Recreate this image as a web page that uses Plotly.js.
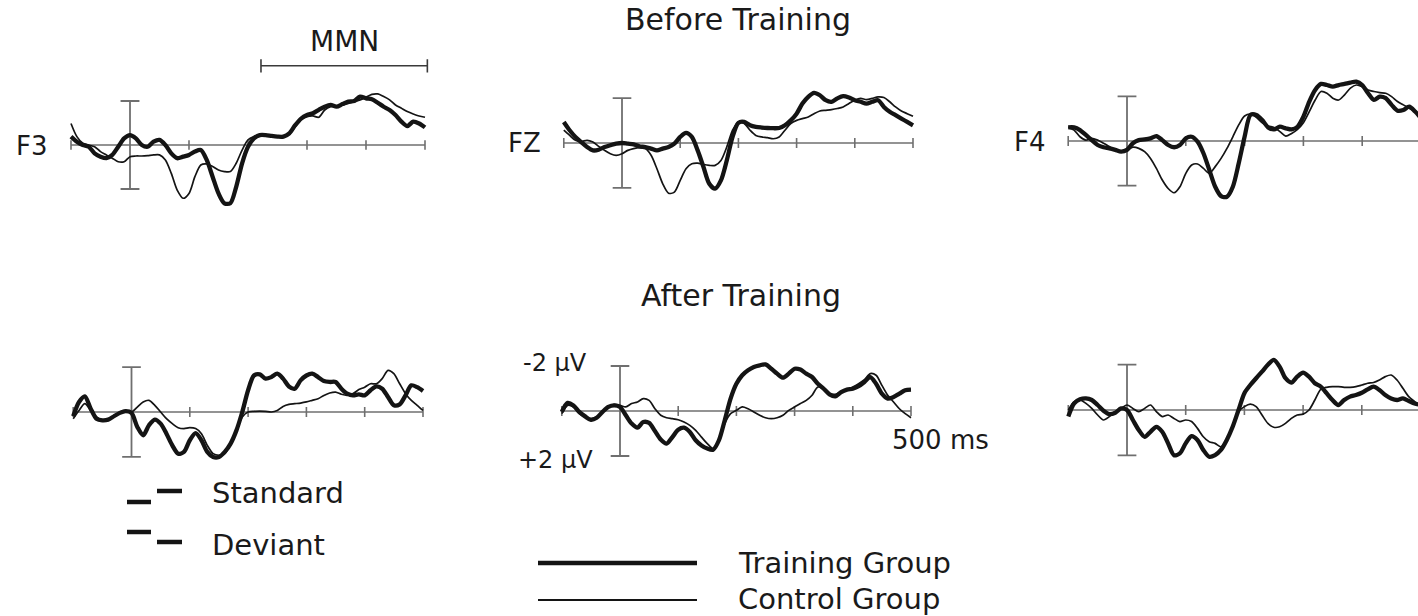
<!DOCTYPE html>
<html>
<head>
<meta charset="utf-8">
<script src="https://cdn.plot.ly/plotly-3.0.1.min.js"></script>
<style>html,body{margin:0;padding:0;background:#fff;}#chart{width:1418px;height:616px;}</style>
</head>
<body>
<div id="chart"></div>
<script>
// ---------- DATA (time in ms, amplitude in µV; negative plotted upward) ----------
const timeMs = [];
for (let t = -100; t <= 500; t += 10) timeMs.push(t);

const electrodes = ['F3', 'FZ', 'F4'];
const phases = ['Before Training', 'After Training'];
const tickTimes = [-100, 100, 200, 300, 400, 500];
const scaleBarUv = [-2, 2];
const mmnWindow = [222, 504];
const mmnLevel = -3.6;
const groupNames = ['Training Group', 'Control Group'];
const stimulusNames = ['Standard', 'Deviant'];
const scaleLabels = ['-2 µV', '+2 µV', '500 ms'];

const trainF3Before = [-0.38,-0.15,0,0.08,0.38,0.53,0.6,0.45,0.08,-0.3,
  -0.45,-0.3,0,0.08,-0.15,-0.23,0,0.38,0.6,0.53,
  0.45,0.3,0.23,0.68,1.44,2.2,2.65,2.65,1.9,0.83,
  0.08,-0.3,-0.45,-0.45,-0.41,-0.38,-0.38,-0.53,-0.9,-1.2,
  -1.36,-1.44,-1.6,-1.74,-1.82,-1.74,-1.86,-1.97,-2.0,-2.2,
  -2.12,-2.08,-1.92,-1.74,-1.59,-1.36,-1.06,-0.86,-1.06,-0.98,-0.8];
const ctrlF3Before = [-0.98,-0.38,-0.08,0,0.08,0.3,0.45,0.6,0.76,0.76,
  0.53,0.5,0.5,0.48,0.45,0.45,0.68,1.29,2.05,2.42,
  2.2,1.44,0.91,0.86,0.98,1.14,1.21,1.21,0.83,0.23,
  -0.23,-0.38,-0.45,-0.42,-0.38,-0.38,-0.38,-0.48,-0.83,-1.17,
  -1.29,-1.32,-1.26,-1.59,-1.74,-1.77,-1.82,-1.89,-1.97,-2.05,
  -2.17,-2.3,-2.32,-2.2,-2.05,-1.82,-1.67,-1.52,-1.41,-1.32,-1.26];

const trainFZBefore = [-0.94,-0.57,-0.27,-0.04,0.18,0.33,0.3,0.18,0.1,0.03,
  0,0.03,0.06,0.15,0.18,0.25,0.33,0.25,0.18,0.03,
  -0.27,-0.45,-0.27,0.33,1.07,1.82,2.04,1.67,0.78,-0.27,
  -0.9,-0.94,-0.79,-0.72,-0.69,-0.67,-0.66,-0.67,-0.79,-1.01,
  -1.31,-1.76,-2.06,-2.24,-2.13,-1.91,-1.84,-1.99,-2.09,-2.03,
  -1.91,-1.84,-1.76,-1.84,-1.91,-1.61,-1.39,-1.24,-1.09,-0.94,-0.79];
const ctrlFZBefore = [-0.57,-0.34,-0.12,-0.07,-0.12,-0.04,0.15,0.33,0.48,0.55,
  0.48,0.33,0.25,0.21,0.25,0.55,1.15,1.82,2.24,2.19,
  1.67,1.15,0.93,0.9,0.96,1.0,1.0,0.78,0.18,-0.57,
  -0.94,-0.87,-0.57,-0.34,-0.27,-0.24,-0.19,-0.27,-0.57,-0.87,
  -1.01,-1.09,-1.16,-1.31,-1.43,-1.46,-1.49,-1.54,-1.61,-1.76,
  -1.91,-1.99,-1.94,-1.99,-2.06,-2.03,-1.84,-1.61,-1.43,-1.31,-1.19];

const trainF4Before = [-0.61,-0.61,-0.49,-0.27,-0.04,0.18,0.28,0.33,0.4,0.48,
  0.4,0.1,-0.04,-0.07,-0.12,-0.22,-0.04,0.18,0.28,0.18,
  -0.12,-0.19,0.03,0.55,1.3,2.05,2.47,2.5,2.05,1.0,
  -0.19,-1.17,-1.17,-0.94,-0.61,-0.52,-0.64,-0.57,-0.52,-0.64,
  -1.09,-1.77,-2.29,-2.56,-2.51,-2.44,-2.51,-2.56,-2.62,-2.66,
  -2.51,-2.14,-1.84,-1.99,-1.92,-1.62,-1.36,-1.39,-1.54,-1.32,-1.02];
const ctrlF4Before = [-0.61,-0.49,-0.19,-0.04,-0.12,-0.04,0.1,0.25,0.4,0.48,
  0.4,0.28,0.33,0.48,0.78,1.23,1.75,2.13,2.32,2.05,
  1.45,1.08,1.03,1.23,1.45,1.15,0.78,0.33,-0.19,-0.72,
  -1.12,-1.21,-1.06,-0.82,-0.67,-0.61,-0.42,-0.22,-0.34,-0.52,
  -0.82,-1.32,-1.84,-2.22,-2.14,-1.92,-1.84,-2.07,-2.37,-2.51,
  -2.44,-2.29,-2.22,-2.17,-2.14,-1.99,-1.77,-1.62,-1.47,-1.32,-1.17];

const trainF3After = [0.19,-0.45,-0.7,-0.15,0.3,0.37,0.34,0.19,0.04,-0.04,
  0.04,0.67,1.04,0.59,0.34,0.52,0.97,1.49,1.86,1.78,
  1.26,0.94,1.26,1.78,2.01,2.01,1.78,1.41,0.82,0,
  -0.97,-1.63,-1.68,-1.49,-1.56,-1.71,-1.49,-1.14,-1.04,-1.41,
  -1.63,-1.71,-1.56,-1.38,-1.34,-1.34,-1.04,-0.82,-0.74,-0.79,
  -0.74,-0.97,-1.14,-1.04,-0.67,-0.3,-0.34,-0.74,-1.19,-1.11,-0.94];
const ctrlF3After = [0.3,-0.07,-0.37,-0.07,0.22,0.37,0.34,0.19,0,-0.07,
  0,-0.22,-0.45,-0.52,-0.3,0,0.3,0.52,0.7,0.74,
  0.7,0.74,0.97,1.49,1.86,1.93,1.86,1.41,0.82,0.22,
  0,-0.03,-0.04,-0.03,0,-0.07,-0.25,-0.34,-0.37,-0.4,
  -0.45,-0.52,-0.59,-0.74,-0.85,-0.89,-0.79,-0.74,-0.82,-1.0,
  -1.11,-1.26,-1.26,-1.49,-1.86,-1.71,-1.26,-0.82,-0.52,-0.3,-0.07];

const trainFZAfter = [0.04,-0.36,-0.25,0.04,0.24,0.39,0.3,0.04,-0.18,-0.25,
  -0.18,0.19,0.56,0.74,0.49,0.53,0.89,1.27,1.45,1.16,
  0.83,0.74,0.93,1.3,1.53,1.67,1.72,1.3,0.41,-0.55,
  -1.21,-1.59,-1.81,-1.96,-2.03,-2.07,-1.88,-1.66,-1.48,-1.66,
  -1.88,-1.84,-1.66,-1.51,-1.21,-0.99,-0.74,-0.65,-0.84,-0.95,
  -0.99,-1.1,-1.29,-1.51,-1.21,-0.77,-0.55,-0.62,-0.77,-0.92,-0.95];
const ctrlFZAfter = [0.12,-0.25,-0.18,0.12,0.27,0.34,0.27,0.04,-0.18,-0.3,
  -0.25,-0.18,-0.33,-0.4,-0.55,-0.47,-0.1,0.19,0.3,0.34,
  0.39,0.49,0.64,0.86,1.16,1.45,1.67,1.3,0.56,0.12,
  -0.03,-0.18,-0.1,0.04,0.19,0.3,0.34,0.3,0.19,-0.03,
  -0.18,-0.33,-0.47,-0.7,-1.07,-0.99,-0.77,-0.74,-0.84,-0.95,
  -1.07,-1.21,-1.39,-1.66,-1.59,-1.14,-0.7,-0.4,-0.1,0.12,0.3];

const trainF4After = [0.29,-0.29,-0.47,-0.51,-0.44,-0.22,0.03,0.18,0.12,-0.07,
  0,0.44,0.88,1.18,0.96,0.74,0.96,1.47,1.99,1.91,
  1.47,1.15,1.32,1.76,2.06,1.99,1.76,1.32,0.74,0,
  -0.74,-1.1,-1.4,-1.69,-1.99,-2.21,-1.91,-1.4,-1.21,-1.47,
  -1.65,-1.47,-1.18,-1.03,-0.74,-0.44,-0.22,-0.44,-0.59,-0.66,
  -0.76,-0.91,-1.03,-0.88,-0.66,-0.51,-0.44,-0.51,-0.4,-0.29,-0.22];
const ctrlF4After = [0,-0.37,-0.44,-0.29,-0.07,0.22,0.44,0.29,0.07,-0.07,
  -0.22,-0.07,0.07,-0.07,-0.22,0.07,0.29,0.22,0.37,0.51,
  0.44,0.51,0.81,1.18,1.4,1.47,1.62,1.32,0.74,0.07,
  -0.15,-0.26,-0.15,0.22,0.59,0.76,0.74,0.59,0.37,0.22,
  0.18,0,-0.44,-0.91,-1.0,-1.03,-1.03,-1.0,-1.0,-1.03,
  -1.1,-1.18,-1.21,-1.32,-1.47,-1.54,-1.32,-0.96,-0.59,-0.37,-0.15];

// ---------- LAYOUT GEOMETRY (pixels in the 1418x616 page) ----------
const W = 1418, H = 616;
const X_MIN = -110, X_MAX = 510, Y_TOP = -4.1, Y_BOT = 3.6;
const panelGeom = [
  {x0: 130,   msPx: 0.590, base: 145, uvPx: 22.0},
  {x0: 622,   msPx: 0.582, base: 143, uvPx: 22.4},
  {x0: 1127,  msPx: 0.588, base: 141, uvPx: 22.3},
  {x0: 131.5, msPx: 0.583, base: 412, uvPx: 22.4},
  {x0: 620,   msPx: 0.582, base: 411, uvPx: 22.5},
  {x0: 1127,  msPx: 0.587, base: 410, uvPx: 22.7}
];
const series = [
  [trainF3Before, ctrlF3Before], [trainFZBefore, ctrlFZBefore], [trainF4Before, ctrlF4Before],
  [trainF3After, ctrlF3After], [trainFZAfter, ctrlFZAfter], [trainF4After, ctrlF4After]
];

const AX = '#6f6f6f', INK = '#141414', TXT = '#1a1a1a';
const FONT = 'DejaVu Sans, Arial, sans-serif';
const tickHalf = 0.22, capHalf = 16, mmnCap = 0.3;

const traces = [];
const layout = {
  width: W, height: H, margin: {l: 0, r: 0, t: 0, b: 0},
  paper_bgcolor: '#ffffff', plot_bgcolor: 'rgba(0,0,0,0)',
  showlegend: false, annotations: [], shapes: []
};

panelGeom.forEach((g, i) => {
  const n = i === 0 ? '' : String(i + 1);
  let left = g.x0 + X_MIN * g.msPx, right = g.x0 + X_MAX * g.msPx, xmax = X_MAX;
  if (right > W) { right = W; xmax = (W - g.x0) / g.msPx; }
  const topPx = g.base + Y_TOP * g.uvPx, botPx = g.base + Y_BOT * g.uvPx;
  const axisCommon = {showgrid: false, zeroline: false, showticklabels: false, showline: false, ticks: '', fixedrange: true};
  layout['xaxis' + n] = Object.assign({}, axisCommon, {domain: [left / W, right / W], range: [X_MIN, xmax], anchor: 'y' + n});
  layout['yaxis' + n] = Object.assign({}, axisCommon, {domain: [1 - botPx / H, 1 - topPx / H], range: [Y_BOT, Y_TOP], anchor: 'x' + n});
  const xa = 'x' + n, ya = 'y' + n;

  // time axis with ticks
  const ax = [tickTimes[0], tickTimes[tickTimes.length - 1], null];
  const ay = [0, 0, null];
  tickTimes.forEach(t => { ax.push(t, t, null); ay.push(-tickHalf, tickHalf, null); });
  traces.push({x: ax, y: ay, xaxis: xa, yaxis: ya, mode: 'lines', line: {color: AX, width: 1.6}, hoverinfo: 'skip'});

  // amplitude scale bar at stimulus onset
  traces.push({
    x: [0, 0, null, -capHalf, capHalf, null, -capHalf, capHalf],
    y: [scaleBarUv[0], scaleBarUv[1], null, scaleBarUv[0], scaleBarUv[0], null, scaleBarUv[1], scaleBarUv[1]],
    xaxis: xa, yaxis: ya, mode: 'lines', line: {color: AX, width: 1.8}, hoverinfo: 'skip'
  });

  if (i === 0) {
    traces.push({
      x: [mmnWindow[0], mmnWindow[1], null, mmnWindow[0], mmnWindow[0], null, mmnWindow[1], mmnWindow[1]],
      y: [mmnLevel, mmnLevel, null, mmnLevel - mmnCap, mmnLevel + mmnCap, null, mmnLevel - mmnCap, mmnLevel + mmnCap],
      xaxis: xa, yaxis: ya, mode: 'lines', line: {color: '#3a3a3a', width: 1.6}, hoverinfo: 'skip'
    });
    layout.annotations.push({xref: xa, yref: ya, x: (mmnWindow[0] + mmnWindow[1]) / 2, y: mmnLevel,
      text: 'MMN', showarrow: false, xanchor: 'center', yanchor: 'bottom', yshift: 6,
      font: {family: FONT, size: 28, color: TXT}});
  }

  const [train, ctrl] = series[i];
  traces.push({x: timeMs, y: ctrl, xaxis: xa, yaxis: ya, mode: 'lines', name: groupNames[1],
    line: {color: INK, width: 1.7, shape: 'spline', smoothing: 0.8}});
  traces.push({x: timeMs, y: train, xaxis: xa, yaxis: ya, mode: 'lines', name: groupNames[0],
    line: {color: INK, width: 4.3, shape: 'spline', smoothing: 0.8}});
});

function px(xp, yp) { return {x: xp / W, y: 1 - yp / H}; }
function label(text, xp, yp, size, anchor) {
  const p = px(xp, yp);
  layout.annotations.push({xref: 'paper', yref: 'paper', x: p.x, y: p.y, text: text, showarrow: false,
    xanchor: anchor || 'center', yanchor: 'middle', font: {family: FONT, size: size, color: TXT}});
}
label(phases[0], 738, 19, 30);
label(phases[1], 741, 295, 30);
label(electrodes[0], 32, 146, 26);
label(electrodes[1], 524, 143, 26);
label(electrodes[2], 1030, 142, 26);
label(scaleLabels[0], 555, 363, 24);
label(scaleLabels[1], 555, 460, 24);
label(scaleLabels[2], 940, 440, 26);
label(stimulusNames[0], 210, 493, 29, 'left');
label(stimulusNames[1], 210, 545, 29, 'left');
label(groupNames[0], 736, 563, 29, 'left');
label(groupNames[1], 736, 599, 29, 'left');

function seg(x1, y1, x2, y2, w) {
  const a = px(x1, y1), b = px(x2, y2);
  layout.shapes.push({type: 'line', xref: 'paper', yref: 'paper', x0: a.x, y0: a.y, x1: b.x, y1: b.y,
    line: {color: INK, width: w}});
}
// Standard / Deviant keys
seg(127, 502, 151, 502, 4.5); seg(157, 491, 182, 491, 4.5);
seg(127, 532, 151, 532, 4.5); seg(157, 542, 182, 542, 4.5);
// group keys
seg(538, 563, 697, 563, 4.5);
seg(538, 600, 697, 600, 1.8);

Plotly.newPlot('chart', traces, layout, {staticPlot: true, displayModeBar: false});
</script>
</body>
</html>
